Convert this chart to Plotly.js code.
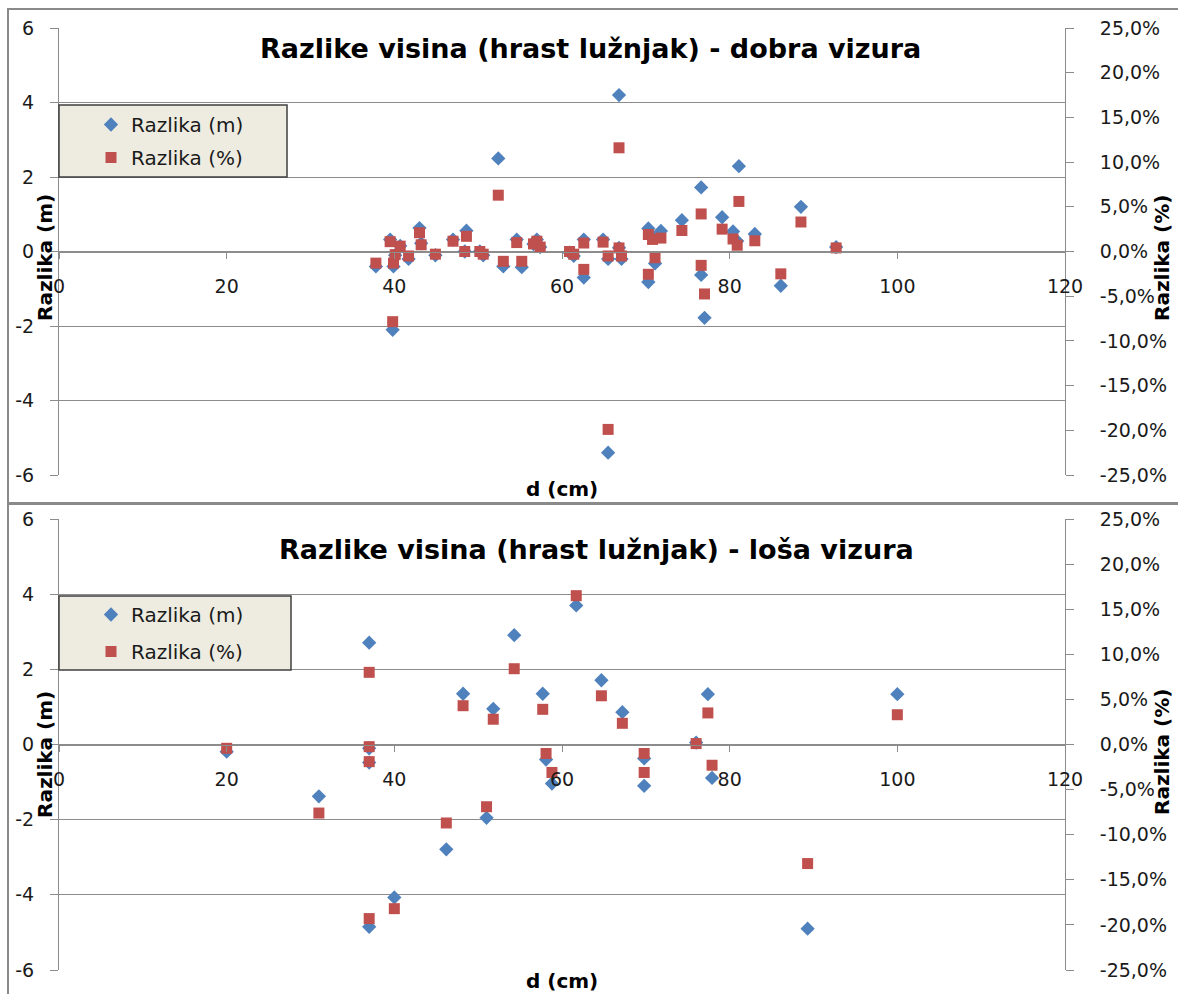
<!DOCTYPE html>
<html>
<head>
<meta charset="utf-8">
<script src="https://cdn.plot.ly/plotly-3.0.1.min.js"></script>
<style>html,body{margin:0;padding:0;background:#fff;}#chart{width:1178px;height:994px;}</style>
</head>
<body>
<div id="chart"></div>
<script>
// ---------- Data: top chart (dobra vizura) ----------
const topD   = [37.8, 39.5, 39.8, 39.9, 40.1, 40.7, 41.7, 43.0, 43.2, 44.9, 47.0, 48.4, 48.6, 50.2, 50.6, 52.4, 53.0, 54.6, 55.2, 56.6, 57.0, 57.4, 60.9, 61.4, 62.6, 62.6, 64.9, 65.5, 65.5, 66.8, 66.8, 67.1, 70.3, 70.3, 70.8, 71.1, 71.8, 74.3, 76.6, 76.6, 77.0, 79.1, 80.4, 80.9, 81.1, 83.0, 86.1, 88.5, 92.7];
const topM   = [-0.40, 0.32, -2.10, -0.40, -0.10, 0.15, -0.20, 0.63, 0.22, -0.10, 0.32, 0.00, 0.56, 0.00, -0.10, 2.50, -0.40, 0.32, -0.42, 0.20, 0.32, 0.12, -0.03, -0.12, 0.32, -0.70, 0.32, -0.20, -5.40, 4.20, 0.10, -0.20, 0.62, -0.82, 0.40, -0.32, 0.55, 0.84, 1.72, -0.63, -1.78, 0.92, 0.54, 0.28, 2.29, 0.47, -0.92, 1.20, 0.12];
const topPct = [-1.3, 1.1, -7.85, -1.3, -0.35, 0.6, -0.5, 2.1, 0.75, -0.3, 1.15, 0.0, 1.7, 0.0, -0.3, 6.3, -1.1, 1.0, -1.1, 0.85, 1.15, 0.5, 0.0, -0.3, 0.95, -2.0, 1.05, -0.5, -19.9, 11.6, 0.4, -0.5, 1.9, -2.55, 1.35, -0.7, 1.5, 2.35, 4.2, -1.55, -4.75, 2.5, 1.4, 0.7, 5.6, 1.2, -2.5, 3.3, 0.4];

// ---------- Data: bottom chart (loša vizura) ----------
const botD   = [20, 31, 37, 37, 37, 37, 40, 46.2, 48.2, 51.0, 51.8, 54.3, 57.7, 58.1, 58.8, 61.7, 64.7, 67.2, 69.8, 69.8, 76.0, 77.4, 77.9, 89.3, 100];
const botM   = [-0.19, -1.38, 2.71, -0.10, -0.48, -4.85, -4.07, -2.79, 1.35, -1.95, 0.95, 2.91, 1.35, -0.40, -1.04, 3.70, 1.71, 0.86, -0.37, -1.10, 0.05, 1.34, -0.89, -4.90, 1.34];
const botPct = [-0.42, -7.6, 8.0, -0.24, -1.9, -19.3, -18.2, -8.7, 4.3, -6.9, 2.8, 8.4, 3.9, -1.0, -3.1, 16.5, 5.4, 2.35, -1.0, -3.1, 0.1, 3.5, -2.3, -13.2, 3.3];

// ---------- Labels ----------
const seriesNames = ['Razlika (m)', 'Razlika (%)'];
const titles = ['Razlike visina (hrast lužnjak) - dobra vizura', 'Razlike visina (hrast lužnjak) - loša vizura'];
const xTitle = 'd (cm)';
const yTitleLeft = 'Razlika (m)';
const yTitleRight = 'Razlika (%)';
const xTickVals = [0, 20, 40, 60, 80, 100, 120];
const xTickText = ['0', '20', '40', '60', '80', '100', '120'];
const mTickVals = [-6, -4, -2, 0, 2, 4, 6];
const mTickText = ['-6', '-4', '-2', '0', '2', '4', '6'];
const pctTickVals = [-25, -20, -15, -10, -5, 0, 5, 10, 15, 20, 25];
const pctTickText = ['-25,0%', '-20,0%', '-15,0%', '-10,0%', '-5,0%', '0,0%', '5,0%', '10,0%', '15,0%', '20,0%', '25,0%'];

// ---------- Styles ----------
const BLUE = '#4F81BD', RED = '#C0504D', GRID = '#8C8C8C', TXT = '#1a1a1a';
const FONT = 'DejaVu Sans';
const tickFont = {family: FONT, size: 19, color: TXT};

const blueMarker = {symbol: 'diamond', size: 11, color: BLUE, line: {width: 0}};
const redMarker  = {symbol: 'square', size: 11, color: RED, line: {width: 0}};

const traces = [
  {x: topD, y: topM,   type: 'scatter', mode: 'markers', name: seriesNames[0], marker: blueMarker, xaxis: 'x',  yaxis: 'y',  legend: 'legend',  legendgroup: 'a'},
  {x: topD, y: topPct, type: 'scatter', mode: 'markers', name: seriesNames[1], marker: redMarker,  xaxis: 'x',  yaxis: 'y2', legend: 'legend',  legendgroup: 'b'},
  {x: botD, y: botM,   type: 'scatter', mode: 'markers', name: seriesNames[0], marker: blueMarker, xaxis: 'x2', yaxis: 'y3', legend: 'legend2', legendgroup: 'c'},
  {x: botD, y: botPct, type: 'scatter', mode: 'markers', name: seriesNames[1], marker: redMarker,  xaxis: 'x2', yaxis: 'y4', legend: 'legend2', legendgroup: 'd'}
];

// pixel helpers (plot area: left 59, right 1065, top 28, bottom 970)
const L = 59, R = 1065, T = 28, B = 970;
const px = v => (v - L) / (R - L);
const py = v => (B - v) / (B - T);

function xAxis(pos) {
  return {
    domain: [0, 1], anchor: 'free', position: pos, range: [0, 120],
    tickvals: xTickVals, ticktext: xTickText, showgrid: false, zeroline: false,
    showline: true, linecolor: GRID, linewidth: 1, ticks: 'outside', ticklen: 6, tickcolor: GRID,
    tickfont: tickFont, ticklabelstandoff: 12, fixedrange: true
  };
}
function mAxis(dom, anchor) {
  return {
    domain: dom, anchor: anchor, range: [-6, 6], tickvals: mTickVals, ticktext: mTickText,
    showgrid: true, gridcolor: GRID, gridwidth: 1, zeroline: false,
    showline: true, linecolor: GRID, linewidth: 1, ticks: 'outside', ticklen: 8, tickcolor: GRID,
    tickfont: tickFont, ticklabelstandoff: 12, fixedrange: true
  };
}
function pAxis(over, anchor) {
  return {
    overlaying: over, anchor: anchor, side: 'right', range: [-25, 25],
    tickvals: pctTickVals, ticktext: pctTickText, showgrid: false, zeroline: false,
    showline: true, linecolor: GRID, linewidth: 1, ticks: 'outside', ticklen: 8, tickcolor: GRID,
    tickfont: tickFont, ticklabelstandoff: 22, fixedrange: true
  };
}

const topDom = [py(475), 1];
const botDom = [0, py(519)];

function ann(text, x, y, size, angle) {
  return {text: text, x: x, y: y, xref: 'paper', yref: 'paper', xanchor: 'center', yanchor: 'middle',
          showarrow: false, textangle: angle || 0,
          font: {family: FONT, size: size, color: '#000', weight: 'bold'}};
}

const legendStyle = (yTop) => ({
  x: px(91), y: py(yTop), xanchor: 'left', yanchor: 'top', bgcolor: 'rgba(0,0,0,0)', borderwidth: 0,
  font: {family: FONT, size: 20, color: TXT}, traceorder: 'grouped', tracegroupgap: 4
});

const layout = {
  width: 1178, height: 994,
  margin: {l: L, r: 1178 - R, t: T, b: 994 - B, pad: 0},
  paper_bgcolor: '#ffffff', plot_bgcolor: 'rgba(0,0,0,0)',
  showlegend: true,
  xaxis: xAxis(py(251.5)),
  yaxis: mAxis(topDom, 'x'),
  yaxis2: pAxis('y', 'x'),
  xaxis2: xAxis(py(744.5)),
  yaxis3: mAxis(botDom, 'x2'),
  yaxis4: pAxis('y3', 'x2'),
  legend: legendStyle(105),
  legend2: Object.assign(legendStyle(595), {tracegroupgap: 8}),
  shapes: [
    // chart frames
    {type: 'rect', xref: 'paper', yref: 'paper', x0: px(8), x1: px(1195), y0: py(503), y1: py(9), line: {color: '#8a8a8a', width: 2}, layer: 'below'},
    {type: 'rect', xref: 'paper', yref: 'paper', x0: px(8), x1: px(1195), y0: py(1010), y1: py(504), line: {color: '#8a8a8a', width: 2}, layer: 'below'},
    // legend boxes
    {type: 'rect', xref: 'paper', yref: 'paper', x0: px(59), x1: px(287), y0: py(177), y1: py(105), fillcolor: '#EEECE1', line: {color: '#3f3f3f', width: 1.5}, layer: 'above'},
    {type: 'rect', xref: 'paper', yref: 'paper', x0: px(59), x1: px(291), y0: py(670), y1: py(596), fillcolor: '#EEECE1', line: {color: '#3f3f3f', width: 1.5}, layer: 'above'}
  ],
  annotations: [
    ann(titles[0], px(590), py(48), 27),
    ann(titles[1], px(596), py(549), 27),
    ann(xTitle, px(562), py(489), 20),
    ann(xTitle, px(562), py(981), 20),
    ann(yTitleLeft, px(45), py(258), 20, -90),
    ann(yTitleLeft, px(45), py(755), 20, -90),
    ann(yTitleRight, px(1162), py(258), 20, -90),
    ann(yTitleRight, px(1162), py(752), 20, -90)
  ]
};

Plotly.newPlot('chart', traces, layout, {displayModeBar: false, staticPlot: true});
</script>
</body>
</html>
